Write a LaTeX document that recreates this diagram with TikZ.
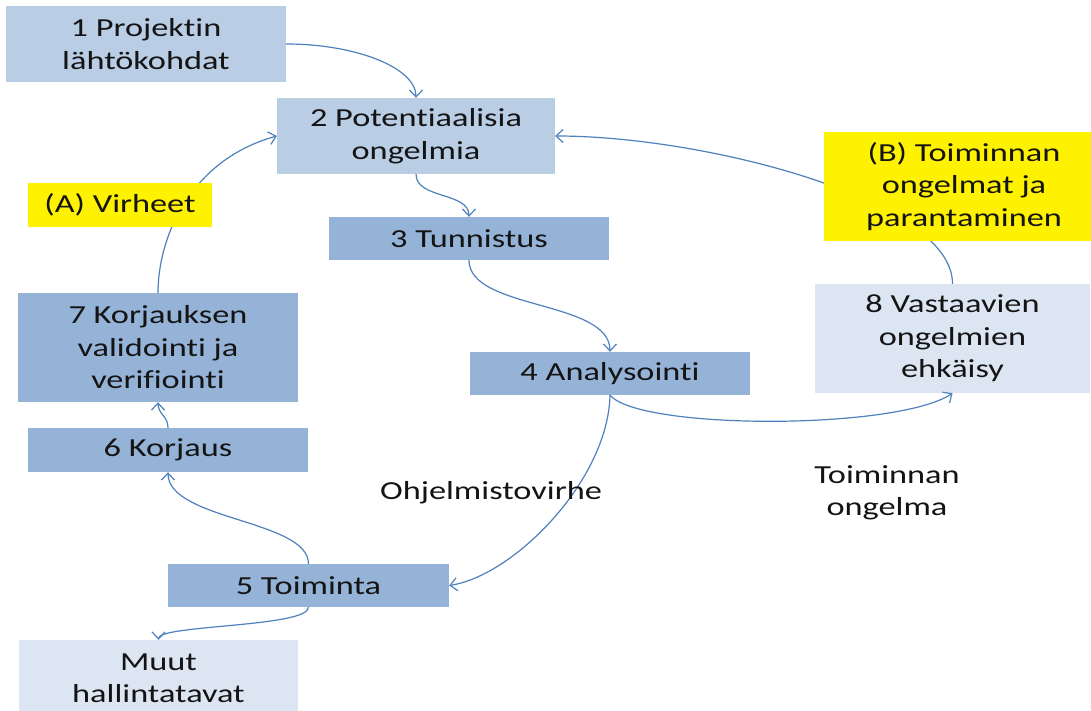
\documentclass[tikz,border=0pt]{standalone}
\usepackage{fontspec}
\setmainfont{Carlito}[FakeStretch=1.32,Ligatures=NoCommon,RawFeature=-liga]
\usetikzlibrary{arrows.meta}
\definecolor{boxlight}{HTML}{B9CDE5}
\definecolor{boxmid}{HTML}{95B3D7}
\definecolor{boxpale}{HTML}{DCE6F2}
\definecolor{linec}{HTML}{4F81BD}
\definecolor{txt}{HTML}{141414}
\begin{document}
\begin{tikzpicture}[x=1pt,y=1pt,
  base/.style={inner sep=0pt, align=center, text=txt, font=\fontsize{26}{32.5}\selectfont},
  conn/.style={draw=linec, line width=1.2pt, -{Straight Barb[length=7pt,width=13pt]}}]
\useasboundingbox (0,0) rectangle (1091,-711);
\fill[white] (0,0) rectangle (1091,-711);
\node[base, fill=boxlight, minimum width=280pt, minimum height=76pt] (b1) at (146,-44) {1 Projektin\\lähtökohdat};
\node[base, fill=boxlight, minimum width=278pt, minimum height=76pt] (b2) at (416,-136) {2 Potentiaalisia\\ongelmia};
\node[base, fill=boxmid, minimum width=280pt, minimum height=43pt] (b3) at (469,-238.5) {3 Tunnistus};
\node[base, fill=boxmid, minimum width=280pt, minimum height=43pt] (b4) at (610,-373.5) {4 Analysointi};
\node[base, fill=boxmid, minimum width=281pt, minimum height=43pt] (b5) at (308.5,-585.5) {5 Toiminta};
\node[base, fill=boxmid, minimum width=280pt, minimum height=44pt] (b6) at (168,-450) {6 Korjaus};
\node[base, fill=boxmid, minimum width=280pt, minimum height=109pt] (b7) at (158,-347.5) {7 Korjauksen\\validointi ja\\verifiointi};
\node[base, fill=boxpale, minimum width=275pt, minimum height=109pt] (b8) at (952.5,-338.5) {8 Vastaavien\\ongelmien\\ehkäisy};
\node[base, fill=boxpale, minimum width=279pt, minimum height=76pt] (muut) at (158.5,-678) {Muut\\hallintatavat};
\draw[conn] (b1.east) .. controls +(70,0) and +(0,30) .. (b2.north);
\draw[conn] (b2.south) .. controls +(0,-25) and +(0,25) .. (b3.north);
\draw[conn] (b3.south) .. controls +(0,-50) and +(0,52) .. (b4.north);
\draw[conn] (b4.south) .. controls +(30,-35) and +(-55,-37) .. (b8.south);
\draw[conn] (b4.south) .. controls +(-2,-85) and +(65,10) .. (b5.east);
\draw[conn] (b5.north) .. controls +(0,44) and +(0,-48) .. (b6.south);
\draw[conn] (b6.north) .. controls +(0,12) and +(0,-12) .. (b7.south);
\draw[conn] (b5.south) .. controls +(0,-20) and +(0,15) .. (muut.north);
\draw[conn] (b7.north) .. controls +(0,55) and +(-87,-24) .. (b2.west);
\draw[conn] (b8.north) .. controls +(0,84) and +(150,0) .. (b2.east);
\node[base, fill=yellow, minimum width=184pt, minimum height=44pt] (la) at (120,-205) {(A) Virheet};
\node[base, fill=yellow, minimum width=280pt, minimum height=109pt] (lb) at (964,-186.5) {(B) Toiminnan\\ongelmat ja\\parantaminen};
\node[base] (ohj) at (491,-493) {Ohjelmistovirhe};
\node[base] (toim) at (887,-493) {Toiminnan\\ongelma};
\end{tikzpicture}
\end{document}
